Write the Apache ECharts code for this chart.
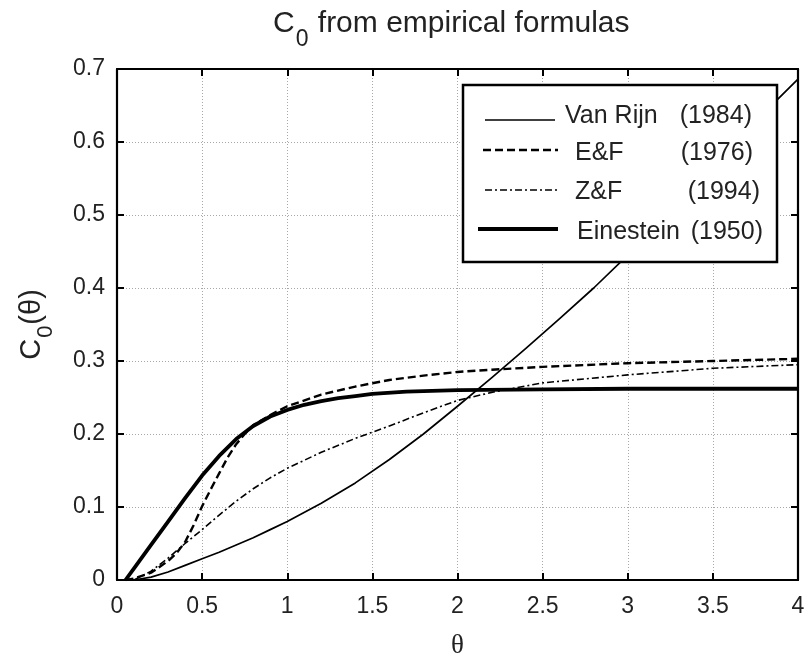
<!DOCTYPE html>
<html>
<head>
<meta charset="utf-8">
<script src="https://cdn.jsdelivr.net/npm/echarts@6/dist/echarts.min.js"></script>
<style>
html,body{margin:0;padding:0;background:#fff;}
#chart{width:807px;height:662px;}
</style>
</head>
<body>
<div id="chart"></div>
<script>
// ---- data ----
const xTicks = [0, 0.5, 1, 1.5, 2, 2.5, 3, 3.5, 4];
const yTicks = [0, 0.1, 0.2, 0.3, 0.4, 0.5, 0.6, 0.7];

const vanRijnTheta = [0.1,0.2,0.3,0.4,0.5,0.6,0.7,0.8,0.9,1.0,1.2,1.4,1.6,1.8,2.0,2.2,2.4,2.6,2.8,3.0,3.2,3.4,3.6,3.8,4.0];
const vanRijnC0    = [0,0.004,0.011,0.020,0.029,0.038,0.048,0.058,0.069,0.080,0.105,0.133,0.165,0.200,0.238,0.277,0.317,0.358,0.400,0.445,0.493,0.541,0.590,0.640,0.686];

const efTheta = [0.05,0.1,0.2,0.3,0.35,0.4,0.45,0.5,0.55,0.6,0.65,0.7,0.75,0.8,0.9,1.0,1.2,1.4,1.6,1.8,2.0,2.2,2.5,3.0,3.5,4.0];
const efC0    = [0,0.002,0.010,0.026,0.037,0.052,0.075,0.101,0.124,0.146,0.168,0.186,0.200,0.212,0.226,0.238,0.254,0.265,0.274,0.280,0.285,0.288,0.292,0.297,0.300,0.303];

const zfTheta = [0.1,0.2,0.3,0.4,0.5,0.6,0.7,0.8,0.9,1.0,1.2,1.4,1.6,1.8,2.0,2.2,2.5,3.0,3.5,4.0];
const zfC0    = [0,0.012,0.030,0.050,0.069,0.089,0.108,0.125,0.140,0.153,0.175,0.194,0.211,0.229,0.246,0.257,0.270,0.281,0.290,0.295];

const einTheta = [0.05,0.1,0.2,0.3,0.4,0.5,0.6,0.7,0.8,0.9,1.0,1.1,1.2,1.3,1.4,1.5,1.7,2.0,2.5,3.0,3.5,4.0];
const einC0    = [0,0.016,0.048,0.080,0.112,0.143,0.170,0.193,0.211,0.224,0.233,0.240,0.245,0.249,0.252,0.255,0.258,0.260,0.261,0.262,0.262,0.262];

const seriesNames = ['Van Rijn', 'E&F', 'Z&F', 'Einestein'];
const seriesYears = ['(1984)', '(1976)', '(1994)', '(1950)'];

// ---- build ----
const pairs = (xs, ys) => xs.map((x, i) => [x, ys[i]]);
const FONT = '"Liberation Sans", Arial, Helvetica, sans-serif';

const chart = echarts.init(document.getElementById('chart'), null, {renderer: 'canvas'});

const gridLeft = 117, gridTop = 69, gridRight = 9, gridBottom = 82;

const baseX = {
  type: 'value', min: xTicks[0], max: xTicks[xTicks.length - 1], interval: 0.5
};
const baseY = {
  type: 'value', min: yTicks[0], max: yTicks[yTicks.length - 1], interval: 0.1
};

const lineDefs = [
  {name: seriesNames[0], data: pairs(vanRijnTheta, vanRijnC0), width: 1.7, type: 'solid'},
  {name: seriesNames[1], data: pairs(efTheta, efC0), width: 2.4, type: [8, 4]},
  {name: seriesNames[2], data: pairs(zfTheta, zfC0), width: 1.6, type: [7, 3, 2, 3]},
  {name: seriesNames[3], data: pairs(einTheta, einC0), width: 3.8, type: 'solid'}
];

// legend drawing (box at the top right of the plot)
const legBox = {x: 463, y: 85, w: 314, h: 177};
const legRows = [
  {lineY: 120, x1: 485, x2: 555, textY: 116, nameX: 565, yearX: 752},
  {lineY: 150, x1: 483, x2: 558, textY: 153, nameX: 575, yearX: 753},
  {lineY: 190, x1: 485, x2: 558, textY: 192, nameX: 575, yearX: 760},
  {lineY: 229, x1: 478, x2: 558, textY: 232, nameX: 577, yearX: 763}
];
const legendGraphics = [{
  type: 'rect', z: 100,
  shape: {x: legBox.x, y: legBox.y, width: legBox.w, height: legBox.h},
  style: {fill: '#fff', stroke: '#000', lineWidth: 2.5}
}];
legRows.forEach((r, i) => {
  const d = lineDefs[i];
  legendGraphics.push({
    type: 'line', z: 101,
    shape: {x1: r.x1, y1: r.lineY, x2: r.x2, y2: r.lineY},
    style: {stroke: '#000', lineWidth: d.width, lineDash: d.type === 'solid' ? null : d.type}
  });
  legendGraphics.push({
    type: 'text', z: 101, x: r.nameX, y: r.textY,
    style: {text: seriesNames[i], font: '25px ' + FONT, fill: '#222', textVerticalAlign: 'middle', textAlign: 'left'}
  });
  legendGraphics.push({
    type: 'text', z: 101, x: r.yearX, y: r.textY,
    style: {text: seriesYears[i], font: '25px ' + FONT, fill: '#222', textVerticalAlign: 'middle', textAlign: 'right'}
  });
});

const titleRich = {
  c: {fontFamily: FONT, fontSize: 30, fontWeight: 'normal', color: '#222', lineHeight: 32, verticalAlign: 'top'},
  s: {fontFamily: FONT, fontSize: 23, fontWeight: 'normal', color: '#222', lineHeight: 23, padding: [19, 1, 0, 1], verticalAlign: 'top'},
  t: {fontFamily: FONT, fontSize: 30, fontWeight: 'normal', color: '#222', lineHeight: 32, verticalAlign: 'top'}
};

const option = {
  backgroundColor: '#fff',
  animation: false,
  title: {
    text: '{c|C}{s|0}{t| from empirical formulas}',
    left: 268, top: 4,
    textStyle: {fontWeight: 'normal', rich: titleRich}
  },
  grid: {
    left: gridLeft, top: gridTop, right: gridRight, bottom: gridBottom,
    containLabel: false, outerBoundsMode: 'none'
  },
  xAxis: [
    Object.assign({}, baseX, {
      position: 'bottom',
      name: 'θ', nameLocation: 'middle', nameGap: 52,
      nameTextStyle: {fontFamily: '"Liberation Serif", "DejaVu Serif", serif', fontSize: 27, color: '#222'},
      axisLine: {show: true, onZero: false, lineStyle: {color: '#000', width: 2.2}},
      axisTick: {show: true, inside: true, length: 7, lineStyle: {color: '#000', width: 2}},
      axisLabel: {show: true, margin: 15, fontFamily: FONT, fontSize: 23, color: '#222'},
      splitLine: {show: true, lineStyle: {color: '#a8a8a8', width: 1, type: [1, 2]}}
    }),
    Object.assign({}, baseX, {
      position: 'top',
      axisLine: {show: true, onZero: false, lineStyle: {color: '#000', width: 2.2}},
      axisTick: {show: true, inside: true, length: 7, lineStyle: {color: '#000', width: 2}},
      axisLabel: {show: false},
      splitLine: {show: false}
    })
  ],
  yAxis: [
    Object.assign({}, baseY, {
      position: 'left',
      name: '{c|C}{s|0}{c|(θ)}', nameLocation: 'middle', nameGap: 70, nameRotate: 90,
      nameTextStyle: {
        rich: {
          c: {fontFamily: FONT, fontSize: 29, color: '#222', lineHeight: 30, verticalAlign: 'top'},
          s: {fontFamily: FONT, fontSize: 22, color: '#222', lineHeight: 22, padding: [18, 1, 0, 1], verticalAlign: 'top'}
        }
      },
      axisLine: {show: true, onZero: false, lineStyle: {color: '#000', width: 2.2}},
      axisTick: {show: true, inside: true, length: 7, lineStyle: {color: '#000', width: 2}},
      axisLabel: {show: true, margin: 12, fontFamily: FONT, fontSize: 23, color: '#222'},
      splitLine: {show: true, lineStyle: {color: '#a8a8a8', width: 1, type: [1, 2]}}
    }),
    Object.assign({}, baseY, {
      position: 'right',
      axisLine: {show: true, onZero: false, lineStyle: {color: '#000', width: 2.2}},
      axisTick: {show: true, inside: true, length: 7, lineStyle: {color: '#000', width: 2}},
      axisLabel: {show: false},
      splitLine: {show: false}
    })
  ],
  series: lineDefs.map(d => ({
    name: d.name,
    type: 'line',
    xAxisIndex: 0, yAxisIndex: 0,
    data: d.data,
    showSymbol: false, symbol: 'none',
    smooth: false,
    clip: true,
    lineStyle: {color: '#000', width: d.width, type: d.type, join: 'round'},
    z: 3
  })),
  graphic: legendGraphics
};

chart.setOption(option);
</script>
</body>
</html>
